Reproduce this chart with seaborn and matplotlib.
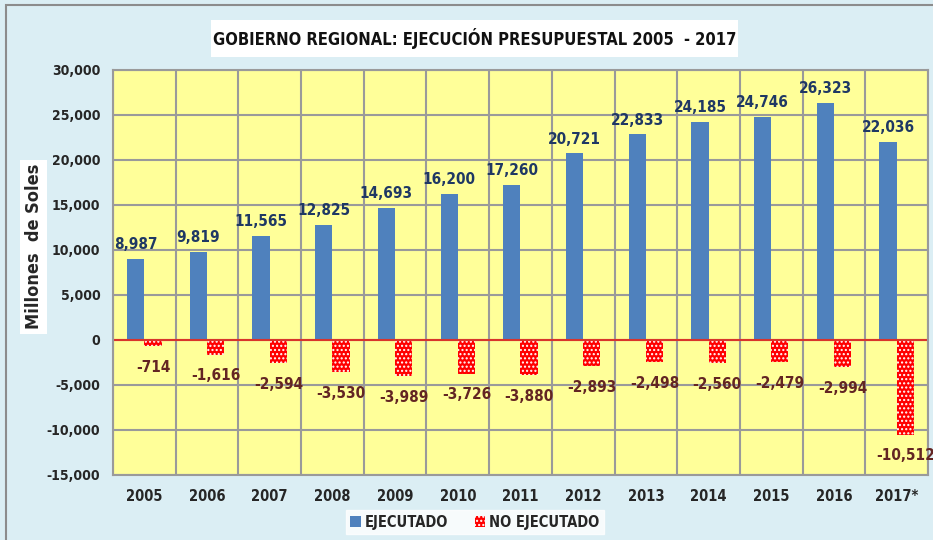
import seaborn as sns
import numpy as np
import pandas as pd
import matplotlib.pyplot as plt
from matplotlib import font_manager
from matplotlib.patches import Rectangle, Patch

years = ["2005", "2006", "2007", "2008", "2009", "2010", "2011",
         "2012", "2013", "2014", "2015", "2016", "2017*"]
ejecutado = [8987, 9819, 11565, 12825, 14693, 16200, 17260,
             20721, 22833, 24185, 24746, 26323, 22036]
no_ejecutado = [-714, -1616, -2594, -3530, -3989, -3726, -3880,
                -2893, -2498, -2560, -2479, -2994, -10512]

series = ["EJECUTADO", "NO EJECUTADO"]

df = pd.DataFrame({
    "year": years * 2,
    "tipo": [series[0]] * len(years) + [series[1]] * len(years),
    "valor": ejecutado + no_ejecutado,
})

# pick a narrow font if one is there (reference uses Calibri bold)
fonts = font_manager.fontManager.ttflist
names = {f.name for f in fonts}
stretch = "normal"
if "Liberation Sans Narrow" in names:
    family = "Liberation Sans Narrow"
elif any(f.name == "DejaVu Sans" and "ondensed" in str(f.stretch) for f in fonts):
    family, stretch = "DejaVu Sans", "condensed"
else:
    family = "Liberation Sans"

sns.set_theme(style="white")
plt.rcParams['font.family'] = [family, 'DejaVu Sans']
plt.rcParams['font.stretch'] = stretch
plt.rcParams['font.weight'] = 'bold'
plt.rcParams['hatch.linewidth'] = 1.0

bg = "#dbeef4"
blue = "#4f81bd"
red = "#ff0000"

fig = plt.figure(figsize=(9.33, 5.4), dpi=100, facecolor=bg)
ax = fig.add_axes([0.1211, 0.1204, 0.8735, 0.75])
ax.set_facecolor("#ffff99")

sns.barplot(data=df, x="year", y="valor", hue="tipo", order=years,
            hue_order=series, palette=[blue, red], width=0.55,
            saturation=1, ax=ax, legend=False)

n = len(years)
for i, p in enumerate(ax.patches[:2 * n]):
    p.set_linewidth(0)
    if i >= n:
        p.set_hatch("....")
        p.set_edgecolor("white")

# value labels
blue_bars = ax.patches[:n]
red_bars = ax.patches[n:2 * n]
for p, v in zip(blue_bars, ejecutado):
    ax.annotate(f"{v:,}", (p.get_x() + p.get_width() / 2, v),
                xytext=(0, 5), textcoords="offset points",
                ha="center", va="bottom", fontsize=11,
                fontweight="bold", color="#1f3864")
for p, v in zip(red_bars, no_ejecutado):
    ax.annotate(f"{v:,}", (p.get_x() + p.get_width() / 2, v),
                xytext=(0, -10), textcoords="offset points",
                ha="center", va="top", fontsize=11,
                fontweight="bold", color="#632523")

ax.set_ylim(-15000, 30000)
ax.set_xlim(-0.5, n - 0.5)
ax.set_yticks(np.arange(-15000, 30001, 5000))
ax.set_yticklabels([f"{t:,}" for t in range(-15000, 30001, 5000)])
ax.set_xticks(range(n))
ax.set_xticks(np.arange(-0.5, n, 1), minor=True)
ax.tick_params(axis="y", which="both", length=0, labelsize=10, pad=9)
ax.tick_params(axis="x", which="both", length=0, labelsize=10.5, pad=10)
for lab in ax.get_xticklabels() + ax.get_yticklabels():
    lab.set_fontweight("bold")
ax.grid(axis="y", which="major", color="#9a9a9a", linewidth=1.5)
ax.grid(axis="x", which="minor", color="#9a9a9a", linewidth=1.5)
ax.set_axisbelow(True)
ax.axhline(0, color="#d9342b", linewidth=1.5, zorder=1.5)
for s in ax.spines.values():
    s.set_color("#9a9a9a")
    s.set_linewidth(1.5)

ax.set_xlabel("")
ax.set_ylabel("")

# y label in a white box
fig.text(0.036, 0.543, "Millones  de Soles", rotation=90, ha="center",
         va="center", fontsize=13, fontweight="bold",
         bbox=dict(facecolor="white", edgecolor="none", pad=3))

# title in a white box
fig.patches.append(Rectangle((211 / 933, 1 - 57 / 540), 527 / 933, 37 / 540,
                             transform=fig.transFigure, facecolor="white",
                             edgecolor="none"))
fig.text(0.5086, 0.929, "GOBIERNO REGIONAL: EJECUCIÓN PRESUPUESTAL 2005  - 2017",
         ha="center", va="center", fontsize=11.9, fontweight="bold",
         color="#111111")

handles = [Patch(facecolor=blue, edgecolor="none"),
           Patch(facecolor=red, edgecolor="white", hatch="....", linewidth=0)]
fig.legend(handles, series, loc="center", bbox_to_anchor=(0.509, 0.033),
           ncol=2, frameon=True, fancybox=False, edgecolor="white",
           facecolor="white", fontsize=10.5, handlelength=0.7,
           handleheight=0.7, columnspacing=1.8, handletextpad=0.3,
           borderpad=0.3, borderaxespad=0)

fig.patches.append(Rectangle((0.006, -0.1), 1.1, 1.09, transform=fig.transFigure,
                             fill=False, edgecolor="#8c8c8c", linewidth=1.5))

fig.savefig("out.png", dpi=100, facecolor=bg)
